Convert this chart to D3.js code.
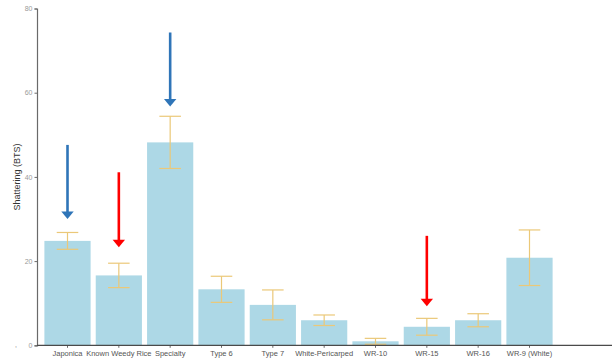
<!DOCTYPE html>
<html>
<head>
<meta charset="utf-8">
<script src="https://cdn.jsdelivr.net/npm/d3@7"></script>
<style>
  html, body { margin: 0; padding: 0; background: #fff; }
  svg { display: block; font-family: "Liberation Sans", Arial, Helvetica, sans-serif; }
</style>
</head>
<body>
<svg id="chart" width="612" height="360"></svg>
<script>
// Seed-shattering (BTS) by rice group: means with error bars
const categories = ["Japonica", "Known Weedy Rice", "Specialty", "Type 6", "Type 7",
  "White-Pericarped", "WR-10", "WR-15", "WR-16", "WR-9 (White)"];
const meanBTS  = [24.8, 16.6, 48.2, 13.3, 9.6, 5.95, 0.95, 4.4, 5.95, 20.8];
const errorBTS = [2.0, 2.9, 6.2, 3.1, 3.55, 1.25, 0.7, 2.0, 1.55, 6.6];
const yTicks = [0, 20, 40, 60, 80];

// Highlight arrows: category, tail value, tip value, colour
const arrowCats  = ["Japonica", "Known Weedy Rice", "Specialty", "WR-15"];
const arrowFrom  = [47.6, 41.1, 74.3, 26.0];
const arrowTo    = [30.0, 23.3, 56.7, 9.3];
const arrowColor = ["#2f75b8", "#ff0000", "#2f75b8", "#ff0000"];

const svg = d3.select("#chart");
const W = 612, H = 360;
const plotLeft = 37, plotTop = 8.5, plotBottom = 345.3;

const x = d3.scaleBand()
  .domain(categories)
  .range([36.7, 560.3])
  .paddingInner(0.1)
  .paddingOuter(0.15);

const y = d3.scaleLinear().domain([0, 80]).range([plotBottom, plotTop]);

// Bars
svg.append("g").selectAll("rect")
  .data(categories)
  .join("rect")
  .attr("x", d => x(d))
  .attr("width", x.bandwidth())
  .attr("y", (d, i) => y(meanBTS[i]))
  .attr("height", (d, i) => y(0) - y(meanBTS[i]))
  .attr("fill", "#add8e6");

// Error bars
const eb = svg.append("g")
  .attr("stroke", "#ebc878")
  .attr("stroke-width", 1.2)
  .attr("fill", "none");
const capHalf = x.step() * 0.21;
categories.forEach((c, i) => {
  const cx = x(c) + x.bandwidth() / 2;
  const hi = y(meanBTS[i] + errorBTS[i]);
  const lo = y(meanBTS[i] - errorBTS[i]);
  eb.append("line").attr("x1", cx).attr("x2", cx).attr("y1", hi).attr("y2", lo);
  eb.append("line").attr("x1", cx - capHalf).attr("x2", cx + capHalf).attr("y1", hi).attr("y2", hi);
  eb.append("line").attr("x1", cx - capHalf).attr("x2", cx + capHalf).attr("y1", lo).attr("y2", lo);
});

// Y axis
const yAxis = svg.append("g")
  .attr("transform", `translate(${plotLeft},0)`)
  .call(d3.axisLeft(y).tickValues(yTicks).tickSize(2.5).tickPadding(2));
yAxis.select(".domain").attr("stroke", "#6a6a6a").attr("stroke-width", 1.2);
yAxis.selectAll(".tick line").attr("stroke", "#6a6a6a");
yAxis.selectAll(".tick text").attr("fill", "#9a9a9a").attr("font-size", 7)
  .attr("font-family", "Liberation Sans, Arial, sans-serif");

// X axis
const xAxis = svg.append("g")
  .attr("transform", `translate(0,${plotBottom})`)
  .call(d3.axisBottom(x).tickSize(2.5).tickPadding(2.5));
xAxis.select(".domain").remove();
xAxis.append("line").attr("x1", plotLeft).attr("x2", W).attr("y1", 0).attr("y2", 0)
  .attr("stroke", "#4a4a4a").attr("stroke-width", 1.2);
xAxis.selectAll(".tick line").attr("stroke", "#6a6a6a");
xAxis.selectAll(".tick text").attr("fill", "#555").attr("font-size", 7.5)
  .attr("font-family", "Liberation Sans, Arial, sans-serif");

// Stray mark at the lower left
svg.append("text").attr("x", 15).attr("y", 347).attr("font-size", 7)
  .attr("fill", "#888").text(",");

// Y axis title
svg.append("text")
  .attr("transform", `translate(20,${(plotTop + plotBottom) / 2}) rotate(-90)`)
  .attr("text-anchor", "middle")
  .attr("font-size", 9)
  .attr("fill", "#333")
  .text("Shattering (BTS)");

// Arrows
const ag = svg.append("g");
arrowCats.forEach((c, i) => {
  const cx = x(c) + x.bandwidth() / 2;
  const y0 = y(arrowFrom[i]);
  const yTip = y(arrowTo[i]);
  const headH = 7.5, headW = 6.2;
  ag.append("line")
    .attr("x1", cx).attr("x2", cx)
    .attr("y1", y0).attr("y2", yTip - headH + 1)
    .attr("stroke", arrowColor[i]).attr("stroke-width", 2.6);
  ag.append("path")
    .attr("d", `M${cx - headW},${yTip - headH} L${cx + headW},${yTip - headH} L${cx},${yTip} Z`)
    .attr("fill", arrowColor[i]);
});
</script>
</body>
</html>
